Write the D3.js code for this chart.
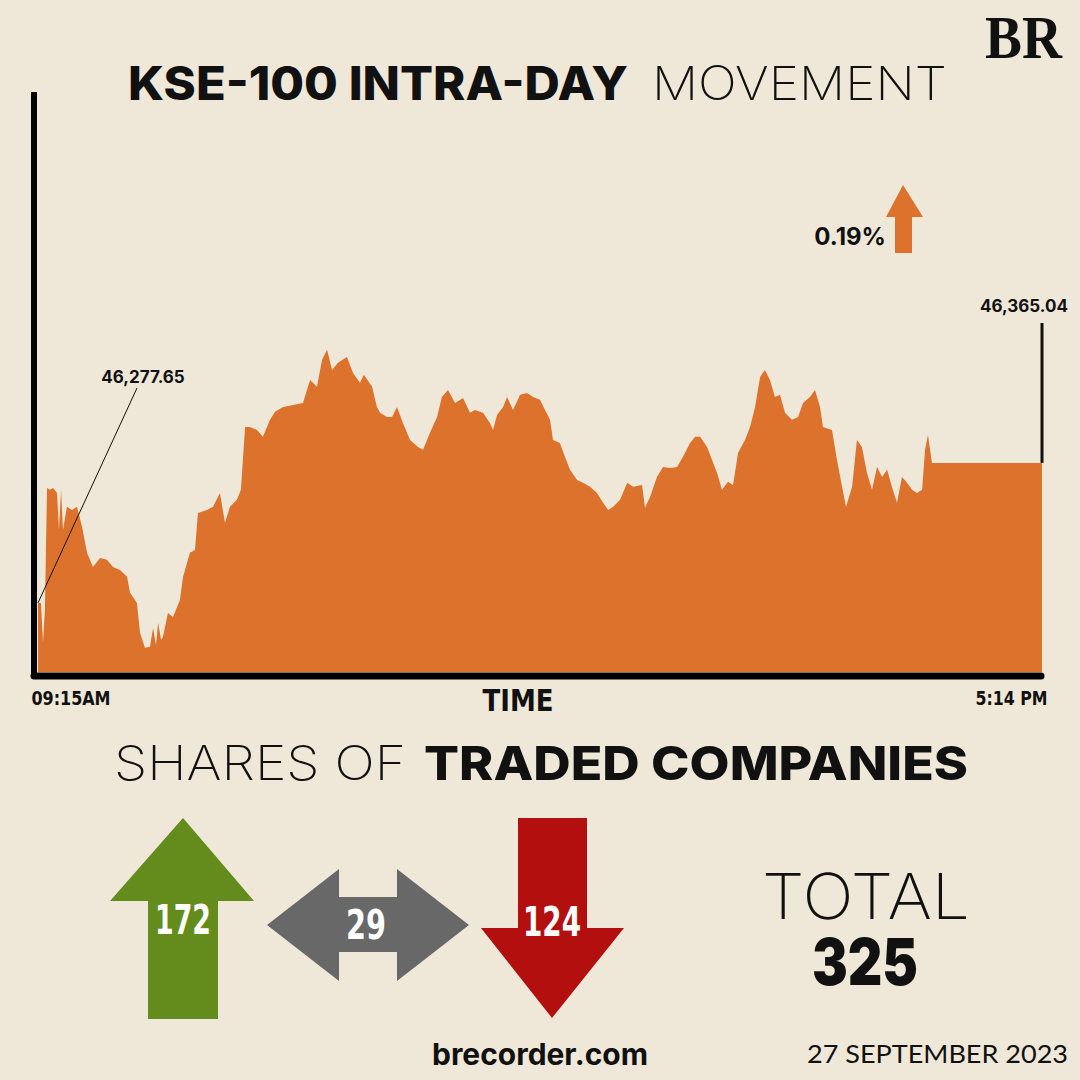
<!DOCTYPE html>
<html>
<head>
<meta charset="utf-8">
<style>
    body { margin: 0; background: #efe8d8; }
    svg { display: block; }
    .bold { font-family: Inter, 'Open Sans', sans-serif; font-weight: 800; fill: #111; }
    .light { font-family: Inter, Lato, sans-serif; font-weight: 200; fill: #111; }
    .narrow { font-family: 'Liberation Sans Narrow', 'DejaVu Sans Condensed', 'Liberation Sans', sans-serif; font-weight: 700; }
    .x .domain { display: none; }
</style>
</head>
<body>
<svg width="1080" height="1080"></svg>

<script src="https://cdn.jsdelivr.net/npm/d3@7"></script>
<script>
    // minutes after 09:15 and KSE-100 index level
    const minutes = [0, 1.4, 2.4, 3.3, 4.3, 5.7, 7.2, 9.1, 10.0, 11.0,
        11.9, 13.8, 16.2, 18.6, 21.0, 23.4, 26.2, 29.6, 32.9, 35.8,
        39.1, 42.5, 43.9, 47.2, 48.7, 51.0, 53.4, 54.9, 56.3, 57.3,
        58.7, 59.6, 62.0, 64.4, 67.7, 69.2, 72.5, 74.9, 76.3, 80.6,
        83.5, 86.8, 89.2, 91.6, 94.9, 96.8, 98.8, 101.1, 104.5, 107.3,
        110.7, 113.1, 116.9, 121.7, 126.4, 129.8, 133.1, 135.5, 137.9, 140.3,
        143.1, 147.4, 150.3, 153.6, 155.5, 159.4, 161.7, 163.2, 166.5, 168.9,
        171.3, 174.1, 177.5, 181.3, 183.7, 187.0, 190.4, 192.7, 195.6, 199.0,
        202.8, 206.1, 208.5, 212.3, 215.6, 217.1, 219.0, 221.9, 223.8, 226.6,
        230.0, 233.3, 236.2, 239.5, 241.9, 244.3, 245.7, 249.0, 251.4, 253.8,
        257.2, 260.0, 263.4, 266.7, 269.6, 272.0, 274.4, 277.7, 281.1, 283.9,
        288.2, 289.6, 292.0, 295.3, 298.2, 301.5, 304.9, 307.7, 311.1, 313.5,
        315.9, 319.2, 321.6, 324.0, 326.3, 329.2, 331.6, 334.0, 337.3, 339.7,
        342.1, 344.5, 346.8, 349.2, 351.6, 354.0, 356.4, 359.7, 362.6, 365.0,
        368.3, 370.7, 373.1, 374.5, 378.8, 381.2, 383.6, 385.5, 388.4, 390.7,
        393.1, 395.5, 397.9, 400.3, 402.7, 405.1, 407.4, 409.8, 412.2, 414.6,
        417.0, 419.4, 421.8, 423.2, 424.6, 426.5, 479]

    const kse = [46277.65, 46277.6, 46252.7, 46273.3, 46349.4, 46348.2, 46349.4, 46346.3, 46323.2, 46348.2,
        46323.2, 46337.6, 46335.7, 46337.6, 46325.1, 46308.9, 46300.1, 46305.7, 46304.5, 46300.1,
        46298.2, 46293.9, 46283.9, 46277.6, 46258.9, 46249.6, 46250.2, 46262.0, 46251.4, 46265.2,
        46254.6, 46256.4, 46271.4, 46268.9, 46279.5, 46293.9, 46308.9, 46310.7, 46333.8, 46335.7,
        46337.6, 46346.3, 46327.6, 46337.6, 46342.0, 46348.2, 46387.5, 46387.5, 46385.6, 46381.3,
        46391.9, 46396.9, 46400.0, 46401.2, 46402.5, 46416.8, 46412.5, 46429.3, 46435.6, 46423.1,
        46427.5, 46431.2, 46421.2, 46415.0, 46420.0, 46412.5, 46400.0, 46396.3, 46393.7, 46393.7,
        46400.0, 46390.0, 46379.4, 46375.0, 46373.2, 46383.8, 46393.7, 46406.2, 46410.6, 46402.5,
        46405.6, 46396.3, 46398.1, 46396.3, 46390.0, 46385.6, 46395.0, 46400.0, 46406.2, 46398.1,
        46407.5, 46408.7, 46406.2, 46404.4, 46398.1, 46391.9, 46379.4, 46377.5, 46368.8, 46360.7,
        46354.4, 46352.6, 46350.1, 46346.3, 46340.1, 46335.7, 46337.6, 46342.0, 46352.6, 46350.1,
        46351.3, 46337.0, 46343.8, 46356.3, 46362.5, 46361.9, 46362.5, 46368.8, 46377.5, 46381.3,
        46381.3, 46375.0, 46366.9, 46358.8, 46348.2, 46353.2, 46351.3, 46371.3, 46379.4, 46387.5,
        46400.0, 46418.7, 46423.1, 46416.8, 46406.2, 46407.5, 46396.3, 46391.9, 46393.7, 46402.5,
        46406.2, 46410.6, 46400.0, 46387.5, 46385.6, 46366.9, 46350.1, 46337.6, 46350.1, 46379.4,
        46375.0, 46358.8, 46348.2, 46362.5, 46356.3, 46360.7, 46350.1, 46340.1, 46356.3, 46352.6,
        46348.2, 46346.3, 46348.2, 46373.2, 46382.5, 46365.0, 46365.04]

    const timeTicks = [0, 479]
    const timeLabels = ["09:15AM", "5:14 PM"]
    const changePct = "0.19%"

    const shareLabels = ["up", "unchanged", "down"]
    const shareCounts = [172, 29, 124]
    const shareColors = ["#648c1c", "#686868", "#b40f0f"]

    let svg = d3.select("svg")
    let data = minutes.map((m, i) => ({ m: m, v: kse[i] }))

    let x = d3.scaleLinear().domain([0, 479]).range([38, 1042])
    let y = d3.scaleLinear().domain([46234.5, 46600]).range([672, 86.5])

    // BR logo
    svg.append("text")
        .attr("x", 985).attr("y", 58)
        .attr("textLength", 77).attr("lengthAdjust", "spacingAndGlyphs")
        .style("font-family", "'Liberation Serif', 'DejaVu Serif', serif")
        .style("font-weight", 700).style("font-size", "62px").style("fill", "#111")
        .text("BR")

    // headline
    svg.append("text").attr("class", "bold")
        .attr("x", 128).attr("y", 100).attr("textLength", 500).attr("lengthAdjust", "spacingAndGlyphs")
        .style("font-size", "46px").text("KSE-100 INTRA-DAY")
    svg.append("text").attr("class", "light")
        .attr("x", 652).attr("y", 100).attr("textLength", 295).attr("lengthAdjust", "spacingAndGlyphs")
        .style("font-size", "47px").text("MOVEMENT")

    // area chart
    let area = d3.area()
        .x(d => x(d.m))
        .y0(y(y.domain()[0]))
        .y1(d => y(d.v))

    svg.append("path")
        .datum(data)
        .attr("fill", "#dc722c")
        .attr("d", area)

    // axes lines
    svg.append("line")
        .attr("x1", 34).attr("x2", 34).attr("y1", 92).attr("y2", 678)
        .attr("stroke", "#000").attr("stroke-width", 6)
    svg.append("line")
        .attr("x1", 34).attr("x2", x(479) - 1).attr("y1", 676).attr("y2", 676)
        .attr("stroke", "#000").attr("stroke-width", 7).attr("stroke-linecap", "round")

    let xAxis = svg.append("g")
        .attr("class", "x axis")
        .attr("transform", "translate(0,676)")
        .call(d3.axisBottom(x).tickValues(timeTicks).tickSize(0).tickFormat((d, i) => timeLabels[i]))

    let tickWidths = [79, 72]
    xAxis.selectAll(".tick text")
        .attr("class", "narrow")
        .attr("y", 29).attr("dy", 0)
        .style("font-size", "19px").style("fill", "#111")
        .attr("text-anchor", (d, i) => i == 0 ? "start" : "end")
        .attr("dx", (d, i) => i == 0 ? -7 : 5)
        .attr("textLength", (d, i) => tickWidths[i])
        .attr("lengthAdjust", "spacingAndGlyphs")

    svg.append("text").attr("class", "narrow")
        .attr("x", 518).attr("y", 711).attr("text-anchor", "middle")
        .attr("textLength", 71).attr("lengthAdjust", "spacingAndGlyphs")
        .style("font-size", "30px").style("fill", "#111")
        .text("TIME")

    // open / close annotations
    let first = data[0], last = data[data.length - 1]
    let fmt = d3.format(",.2f")

    svg.append("line")
        .attr("x1", x(first.m)).attr("y1", y(first.v))
        .attr("x2", 137).attr("y2", 388)
        .attr("stroke", "#111").attr("stroke-width", 1)
    svg.append("text").attr("class", "bold")
        .attr("x", 143).attr("y", 383).attr("text-anchor", "middle")
        .style("font-size", "17px").style("font-weight", 700)
        .text(fmt(first.v))

    svg.append("line")
        .attr("x1", x(last.m)).attr("y1", y(last.v))
        .attr("x2", x(last.m)).attr("y2", 323)
        .attr("stroke", "#111").attr("stroke-width", 3)
    svg.append("text").attr("class", "bold")
        .attr("x", 1024).attr("y", 312).attr("text-anchor", "middle")
        .style("font-size", "17px").style("font-weight", 700)
        .text(fmt(last.v))

    // change
    svg.append("text").attr("class", "bold")
        .attr("x", 886).attr("y", 245).attr("text-anchor", "end")
        .style("font-size", "24px").style("font-weight", 700)
        .text(changePct)
    svg.append("path")
        .attr("d", "M903,185 L923,217 L912,217 L912,253 L895,253 L895,217 L886,217 Z")
        .attr("fill", "#dc722c")

    // shares headline
    svg.append("text").attr("class", "light")
        .attr("x", 114).attr("y", 780).attr("textLength", 292).attr("lengthAdjust", "spacingAndGlyphs")
        .style("font-size", "48px").text("SHARES OF")
    svg.append("text").attr("class", "bold")
        .attr("x", 424).attr("y", 780).attr("textLength", 544).attr("lengthAdjust", "spacingAndGlyphs")
        .style("font-size", "47px").text("TRADED COMPANIES")

    // arrows
    let arrowShapes = {
        up: "M183,818 L254,901 L218,901 L218,1019 L148,1019 L148,901 L110,901 Z",
        unchanged: "M267,925 L339,869 L339,897 L397,897 L397,869 L469,925 L397,981 L397,952 L339,952 L339,981 Z",
        down: "M518,818 L587,818 L587,928 L624,928 L552,1018 L481,928 L518,928 Z"
    }
    let labelPos = [[183, 934], [366, 939], [552, 936]]
    let labelWidths = [56, 40, 58]

    let arrows = svg.append("g")
    arrows.selectAll("path")
        .data(shareLabels)
        .join("path")
        .attr("d", d => arrowShapes[d])
        .attr("fill", (d, i) => shareColors[i])

    arrows.selectAll("text")
        .data(shareCounts)
        .join("text")
        .attr("class", "narrow")
        .attr("x", (d, i) => labelPos[i][0])
        .attr("y", (d, i) => labelPos[i][1])
        .attr("text-anchor", "middle")
        .attr("textLength", (d, i) => labelWidths[i])
        .attr("lengthAdjust", "spacingAndGlyphs")
        .style("font-size", "40px").style("fill", "#fff")
        .text(d => d)

    // total
    svg.append("text").attr("class", "light")
        .attr("x", 762).attr("y", 919).attr("textLength", 208).attr("lengthAdjust", "spacingAndGlyphs")
        .style("font-size", "63px").text("TOTAL")
    svg.append("text").attr("class", "bold")
        .attr("x", 812).attr("y", 985).attr("textLength", 106).attr("lengthAdjust", "spacingAndGlyphs")
        .style("font-size", "64px").style("font-weight", 900)
        .text(d3.sum(shareCounts))

    // footer
    svg.append("text").attr("class", "bold")
        .attr("x", 432).attr("y", 1065).attr("textLength", 216).attr("lengthAdjust", "spacingAndGlyphs")
        .style("font-size", "30px").style("font-weight", 700)
        .text("brecorder.com")
    svg.append("text")
        .attr("x", 807).attr("y", 1063).attr("textLength", 261).attr("lengthAdjust", "spacingAndGlyphs")
        .style("font-family", "Lato, 'Open Sans', sans-serif").style("font-size", "25px").style("fill", "#111")
        .text("27 SEPTEMBER 2023")
</script>
</body>
</html>
